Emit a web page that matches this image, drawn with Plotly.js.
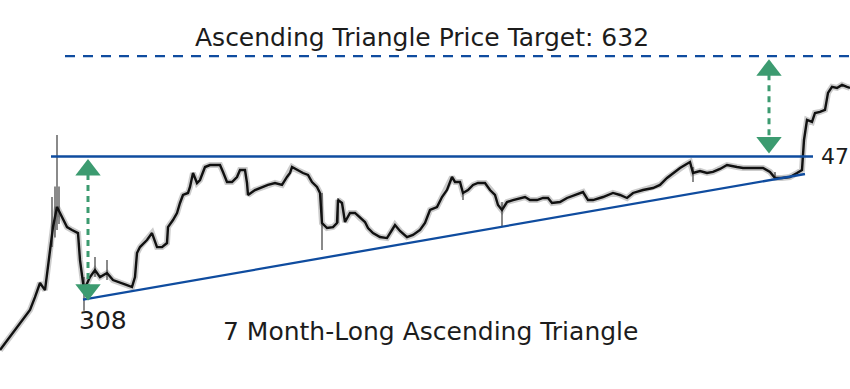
<!DOCTYPE html>
<html>
<head>
<meta charset="utf-8">
<script src="https://cdn.plot.ly/plotly-3.0.1.min.js"></script>
<style>html,body{margin:0;padding:0;background:#fff}#chart{width:850px;height:389px}</style>
</head>
<body>
<div id="chart"></div>
<script>
// ---- data (session index, price) ----
const day = [0,10,20,30,35,40,45,50,53,57,60,63,67,72,78,80,82,84,90,95,100,107,113,120,127,132,135,137,140,147,152,157,162,167,168,173,177,180,183,188,190,193,197,200,205,210,215,220,223,227,232,237,240,245,247,248,255,262,268,275,282,287,290,292,297,303,308,312,317,320,322,327,333,337,338,342,345,350,355,360,365,368,373,380,387,392,395,400,407,413,420,425,430,437,442,447,452,455,460,463,468,473,478,485,490,495,498,502,507,513,520,525,530,537,543,548,552,560,567,573,580,583,588,593,603,613,620,627,633,643,653,660,667,673,680,685,690,693,700,707,713,720,727,737,743,753,763,770,775,782,790,797,802,804,807,812,815,820,825,828,832,837,842,847,850];
const close = [265.4,275.8,287.4,298.7,310.3,323.5,316.8,359.7,381.6,404.9,397.8,389.6,381.6,378.3,374.9,346.2,329.2,316.8,329.2,336.1,329.2,333.2,326.3,323.5,321.5,319.7,329.2,353.4,359.7,367.3,374.9,359.7,359.7,364.0,381.6,389.6,397.8,409.7,419.5,422.0,429.5,447.6,434.6,438.5,455.6,458.3,458.3,458.3,449.0,435.9,435.9,442.4,451.6,451.6,434.6,419.5,425.7,429.5,432.1,434.6,432.1,442.4,447.6,455.6,451.6,447.6,445.0,435.9,429.5,422.0,386.2,380.5,381.6,386.2,413.3,409.7,387.3,397.8,397.8,391.9,387.3,380.5,374.9,370.5,369.4,378.3,383.9,377.2,370.5,372.8,378.3,386.2,401.3,404.9,417.0,425.7,442.4,435.9,435.9,422.0,425.7,432.1,434.6,434.6,425.7,419.5,407.3,401.3,410.9,413.3,415.8,417.0,413.3,413.3,415.8,415.8,409.7,410.9,415.8,418.3,422.0,423.2,413.3,413.3,417.0,422.0,419.5,415.8,422.0,425.7,428.2,432.1,441.1,447.6,454.3,458.3,462.4,447.6,450.3,447.6,449.0,453.0,458.3,455.6,454.3,454.3,454.3,449.0,441.1,441.1,442.4,447.6,451.6,493.5,523.5,520.4,534.4,536.0,539.2,567.0,577.1,575.4,580.5,577.1,575.4];

// notable high/low wicks
const wickDay = [52,55,57,59,84,95,107,322,338,463,502,693,775];
const wickHigh = [417.0,430.0,500.8,430.0,329.2,349.3,346.2,422.0,415.8,422.0,410.9,455.6,449.0];
const wickLow  = [359.7,370.0,378.3,385.0,298.0,329.2,326.3,356.6,386.2,413.3,381.6,435.9,438.5];

// pattern levels
const lowLevel = 308, resistance = 470, target = 632;
const resistanceLabel = '47';   // shown cut at the right edge in the source
const trendStartDay = 83, trendEndDay = 805, trendEndPrice = 446.3;
const resStartDay = 51, resEndDay = 813;
const targetStartDay = 65, targetEndDay = 850;
const arrowLeftDay = 88, arrowRightDay = 769;

// ---- layout constants ----
const W = 850, H = 389;
const yRange = [2.374, 2.8727];
const pxPerDecade = H / (yRange[1] - yRange[0]);
const blue = '#0f4c9f', green = '#3c9b70';
const headSize = 22, headR = headSize / 2;
const shift = (p, px) => p * Math.pow(10, px / pxPerDecade); // px>0 moves up

const wx = [], wy = [];
wickDay.forEach((d, i) => { wx.push(d, d, null); wy.push(wickLow[i], wickHigh[i], null); });

function arrow(d, lo, hi, insetTop, insetBot) {
  const tipTop = shift(hi, -insetTop), tipBot = shift(lo, insetBot);
  const cTop = shift(tipTop, -headR), cBot = shift(tipBot, headR);
  return [
    {x: [d, d], y: [shift(cTop, -4), shift(cBot, 4)], mode: 'lines',
     line: {color: green, width: 3, dash: '6px,5px'}, hoverinfo: 'skip'},
    {x: [d, d], y: [cTop, cBot], mode: 'markers',
     marker: {symbol: ['triangle-up', 'triangle-down'], size: headSize, color: green, line: {width: 0}},
     hoverinfo: 'skip'}
  ];
}

const traces = [
  {x: day, y: close, mode: 'lines', line: {color: 'rgba(0,0,0,0.2)', width: 6}, hoverinfo: 'skip'},
  {x: wx, y: wy, mode: 'lines', line: {color: 'rgba(60,60,60,0.6)', width: 2}, hoverinfo: 'skip', connectgaps: false},
  {x: day, y: close, mode: 'lines', line: {color: '#111', width: 2.4}, name: 'Price'},
  {x: [resStartDay, resEndDay], y: [resistance, resistance], mode: 'lines', line: {color: blue, width: 2.6}, hoverinfo: 'skip'},
  {x: [trendStartDay, trendEndDay], y: [lowLevel, trendEndPrice], mode: 'lines', line: {color: blue, width: 2.3}, hoverinfo: 'skip'},
  {x: [targetStartDay, targetEndDay], y: [target, target], mode: 'lines', line: {color: blue, width: 2.3, dash: '10px,8px'}, hoverinfo: 'skip'},
  ...arrow(arrowLeftDay, lowLevel, resistance, 2.5, -1),
  ...arrow(arrowRightDay, resistance, target, 3, 3)
];

const font = '"DejaVu Sans", Roboto, sans-serif';
const txt = {family: font, size: 25, color: '#1c1c1c'};
const layout = {
  width: W, height: H,
  margin: {l: 0, r: 0, t: 0, b: 0},
  paper_bgcolor: '#fff', plot_bgcolor: '#fff',
  showlegend: false,
  xaxis: {range: [0, 850], visible: false, fixedrange: true},
  yaxis: {type: 'log', range: yRange, visible: false, fixedrange: true},
  annotations: [
    {text: 'Ascending Triangle Price Target: ' + target, xref: 'paper', yref: 'paper', x: 422 / W, y: 1 - 38 / H,
     xanchor: 'center', yanchor: 'middle', showarrow: false, font: txt},
    {text: '7 Month-Long Ascending Triangle', xref: 'paper', yref: 'paper', x: 430 / W, y: 1 - 331 / H,
     xanchor: 'center', yanchor: 'middle', showarrow: false, font: txt},
    {text: String(lowLevel), xref: 'x', yref: 'paper', x: 77, y: 1 - 320 / H,
     xanchor: 'left', yanchor: 'middle', showarrow: false, font: txt},
    {text: resistanceLabel, xref: 'x', yref: 'y', x: 819, y: Math.log10(resistance),
     xanchor: 'left', yanchor: 'middle', showarrow: false, font: Object.assign({}, txt, {size: 22})}
  ]
};

Plotly.newPlot('chart', traces, layout, {staticPlot: true, displayModeBar: false});
</script>
</body>
</html>
